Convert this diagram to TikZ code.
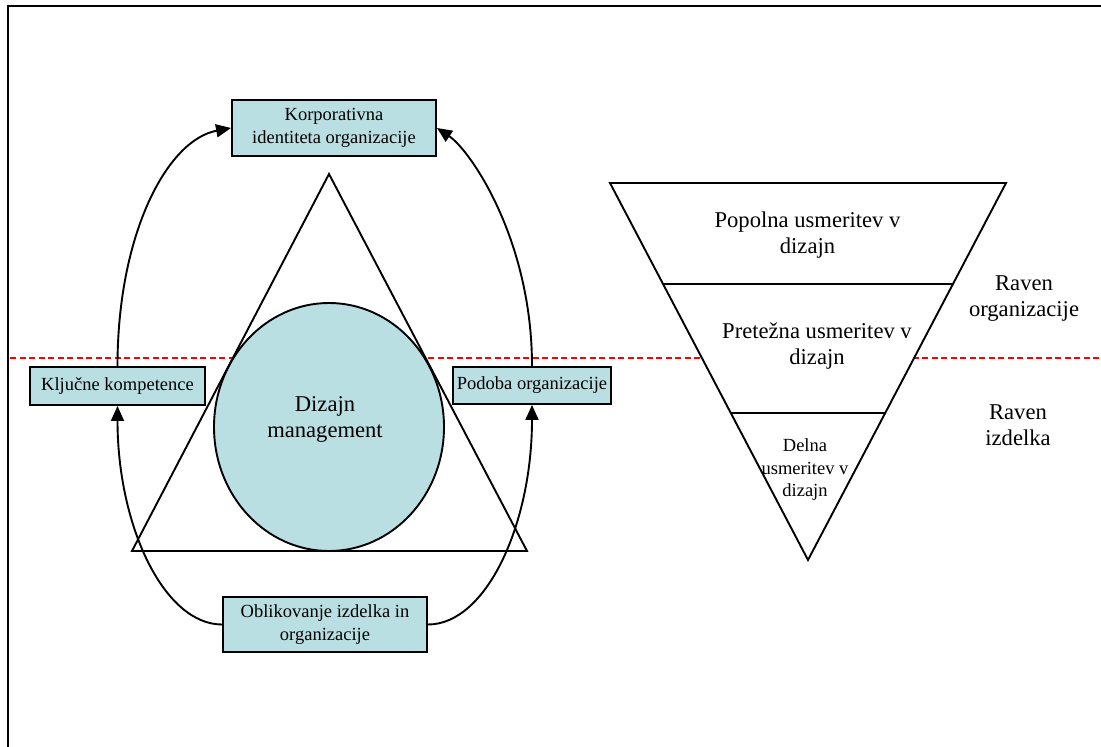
\documentclass[tikz,border=0pt]{standalone}
\usepackage{fontspec}
\setmainfont{Liberation Serif}
\usetikzlibrary{arrows.meta,shapes.geometric,calc}
\definecolor{boxblue}{RGB}{186,223,227}
\definecolor{levelred}{RGB}{255,0,0}
\newcommand{\smalltxt}{\fontsize{18.5}{22.5}\selectfont}
\newcommand{\bigtxt}{\fontsize{22.6}{26}\selectfont}

\begin{document}
\begin{tikzpicture}[x=1pt,y=-1pt,
  outline/.style={line width=1.9pt, line join=miter},
  infobox/.style={draw, line width=1.9pt, fill=boxblue, inner sep=0pt,
    align=center, font=\smalltxt},
  flow/.style={line width=1.9pt, -{Triangle[length=15pt,width=13pt]}},
  txt/.style={align=center, inner sep=0pt},
  levelline/.style={levelred, line width=1.2pt, dash pattern=on 6pt off 3.5pt}
]
\useasboundingbox (0,0) rectangle (1101,747);

% outer frame (top and left edges)
\draw[line width=2.4pt] (1105,6) -- (8,6) -- (8,752);

% boundary between organisation level and product level
\draw[levelline] (10,358) -- (1101,358);

% design management core
\node[ellipse, draw, line width=1.9pt, fill=boxblue, minimum width=230pt,
  minimum height=248pt, inner sep=0pt] (dm) at (329,427) {};
\node[txt, font=\bigtxt] (dmt) at (325,419) {Dizajn\\management};
\draw[outline] (329,174) -- (132,551) -- (527,551) -- cycle;

% surrounding boxes
\node[infobox, minimum width=204pt, minimum height=56pt] (kor) at (334,128)
  {Korporativna\\identiteta organizacije};
\node[infobox, minimum width=175pt, minimum height=38pt] (lk) at (117.5,386)
  {Ključne kompetence};
\node[infobox, minimum width=158pt, minimum height=37pt] (po) at (532,385.5)
  {Podoba organizacije};
\node[infobox, minimum width=204pt, minimum height=55pt] (ob) at (325,624.5)
  {Oblikovanje izdelka in\\organizacije};

% connecting arrows
\draw[flow] (lk.north) .. controls +(0,-132) and +(-64,12) .. (kor.west);
\draw[flow] (po.north) .. controls +(0,-127) and +(33,22) .. (kor.east);
\draw[flow] (ob.west) .. controls +(-58,0) and +(0,120) .. (lk.south);
\draw[flow] (ob.east) .. controls +(58,0) and +(0,120) .. (po.south);

% funnel of design orientation
\coordinate (fl) at (610,183);
\coordinate (fr) at (1006,183);
\coordinate (fa) at (808,560);
\draw[outline, fill=white] (fl) -- (fr) -- (fa) -- cycle;
\draw[outline] ($(fl)!0.268!(fa)$) -- ($(fr)!0.268!(fa)$);
\draw[outline] ($(fl)!0.610!(fa)$) -- ($(fr)!0.610!(fa)$);

\node[txt, font=\bigtxt] (f1) at (807.5,235) {Popolna usmeritev v\\dizajn};
\node[txt, font=\bigtxt] (f2) at (817,346) {Pretežna usmeritev v\\dizajn};
\node[txt, font=\smalltxt] (f3) at (805,470) {Delna\\usmeritev v\\dizajn};

% level captions
\node[txt, font=\bigtxt] (ro) at (1024,299) {Raven\\organizacije};
\node[txt, font=\bigtxt] (ri) at (1018,425) {Raven\\izdelka};
\end{tikzpicture}
\end{document}
